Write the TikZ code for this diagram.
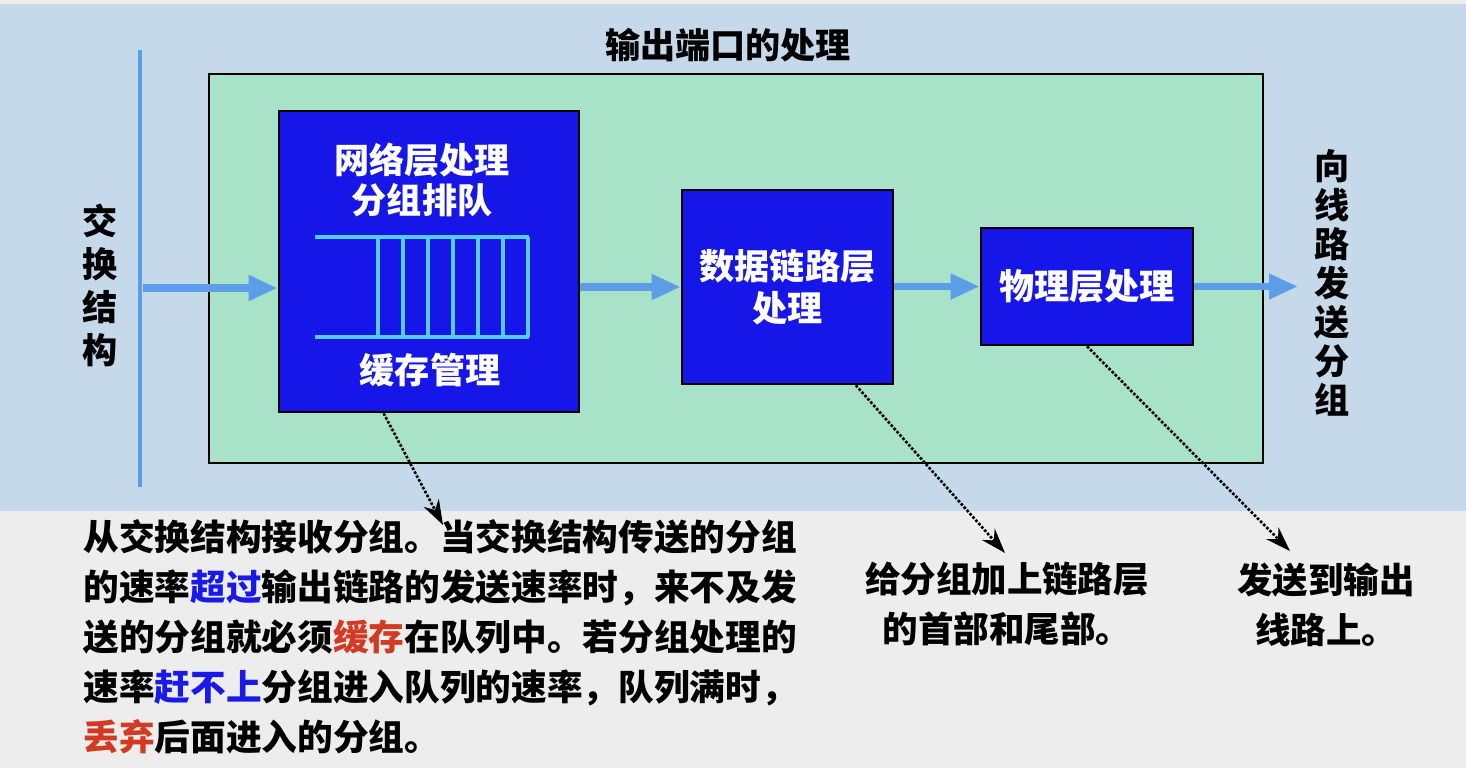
\documentclass[tikz,border=0pt]{standalone}
\usepackage{fontspec}
\setmainfont{Noto Sans CJK SC}
\usetikzlibrary{arrows.meta,calc}

\definecolor{bandblue}{HTML}{C5D9EA}
\definecolor{paper}{HTML}{EDEDED}
\definecolor{portgreen}{HTML}{A8E2C8}
\definecolor{boxblue}{HTML}{1616E8}
\definecolor{flowblue}{HTML}{5B9DE6}
\definecolor{qcyan}{HTML}{55CBF0}
\definecolor{hlblue}{HTML}{1A1AE8}
\definecolor{hlred}{HTML}{D23A22}

\tikzset{every node/.style={font=\bfseries\fontsize{20}{24}\selectfont, inner sep=0pt}}
\tikzset{layer/.style={draw=black, line width=1.5pt, fill=boxblue, text=white, align=center}}
\tikzset{flow/.style={draw=flowblue, line width=4.4pt, -{Triangle[length=0.58cm,width=0.48cm]}}}
\tikzset{note/.style={draw=black, densely dotted, line width=1.5pt, -{Stealth[length=0.5cm,width=0.34cm]}}}
\tikzset{slot/.style={draw=qcyan, line width=2.8pt}}

\begin{document}
\begin{tikzpicture}[x=0.02cm, y=-0.02cm]
  \useasboundingbox (0,0) rectangle (1466,768);
  \fill[paper] (0,0) rectangle (1466,768);
  \fill[bandblue] (0,4) rectangle (1466,511);

  \node (title) at (728,45) {输出端口的处理};
  \node[draw=black, line width=1.3pt, fill=portgreen, minimum width=21.08cm, minimum height=7.78cm] (port) at (736,268.5) {};

  \draw[draw=flowblue, line width=2.8pt] (140,50) -- (140,487);
  \node[align=center, font=\bfseries\fontsize{20}{24.5}\selectfont] (fabric) at (100,285) {交\\换\\结\\构};
  \node[align=center, font=\bfseries\fontsize{20}{22.2}\selectfont] (wire) at (1332,283) {向\\线\\路\\发\\送\\分\\组};

  \node[layer, minimum width=6cm, minimum height=6.02cm] (box1) at (429,261.5) {};
  \node[layer, minimum width=4.22cm, minimum height=3.88cm, font=\bfseries\fontsize{20}{23.8}\selectfont] (box2) at (787.5,287) {数据链路层\\处理};
  \node[layer, minimum width=4.24cm, minimum height=2.34cm] (box3) at (1087,286.5) {物理层处理};

  \node[text=white, align=center, font=\bfseries\fontsize{20}{22.7}\selectfont] (queue) at (422,180) {网络层处理\\分组排队};
  \node[text=white] (buffer) at (430,370) {缓存管理};
  \draw[slot] (315,237) -- (529,237) (315,337) -- (529,337);
  \foreach \x in {378,403,...,528}
    \draw[slot] (\x,237) -- (\x,337);

  \coordinate (in) at (143,288);
  \coordinate (out) at (1298,288);
  \draw[flow] (in) -- (in -| box1.west);
  \draw[flow] (box1.east |- box2.west) -- (box2.west);
  \draw[flow] (box2.east |- box3.west) -- (box3.west);
  \draw[flow] (box3.east) -- (box3.east -| out);

  \node[anchor=north west, align=left, font=\bfseries\fontsize{20.3}{28.45}\selectfont] (desc) at (83,519)
    {从交换结构接收分组。当交换结构传送的分组\\
     的速率\textcolor{hlblue}{超过}输出链路的发送速率时，来不及发\\
     送的分组就必须\textcolor{hlred}{缓存}在队列中。若分组处理的\\
     速率\textcolor{hlblue}{赶不上}分组进入队列的速率，队列满时，\\
     \textcolor{hlred}{丢弃}后面进入的分组。};
  \node[anchor=north, align=center, font=\bfseries\fontsize{20.2}{28.45}\selectfont] (frame) at (1007,562)
    {给分组加上链路层\\的首部和尾部。};
  \node[anchor=north, align=center, font=\bfseries\fontsize{20.2}{28.45}\selectfont] (send) at (1326,562)
    {发送到输出\\线路上。};

  \coordinate (n1) at (443,525);
  \coordinate (n2) at (1005,553);
  \coordinate (n3) at (1290,551);
  \draw[note] ($(box1.south west)!.35!(box1.south east)$) -- (n1);
  \draw[note] ($(box2.south west)!.82!(box2.south east)$) -- (n2);
  \draw[note] (box3.south) -- (n3);
\end{tikzpicture}
\end{document}
